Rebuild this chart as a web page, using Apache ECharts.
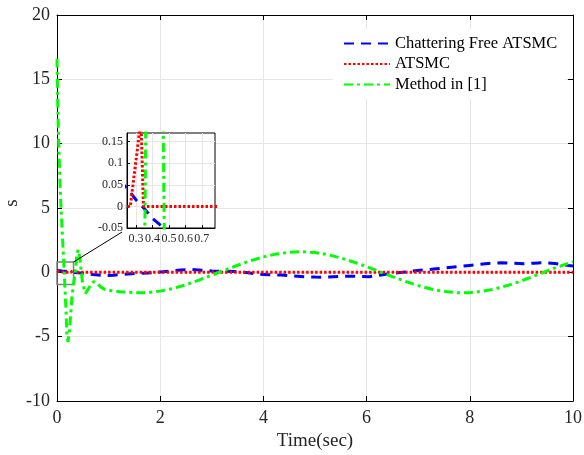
<!DOCTYPE html>
<html>
<head>
<meta charset="utf-8">
<script src="https://cdn.jsdelivr.net/npm/echarts@6/dist/echarts.min.js"></script>
<style>
  html, body { margin: 0; padding: 0; background: #fff; }
  #chart { width: 584px; height: 455px; }
</style>
</head>
<body>
<div id="chart"></div>
<script>
// Sliding variable s(t) for the three controllers
const blueName = 'Chattering Free ATSMC';
const redName = 'ATSMC';
const greenName = 'Method in [1]';

const blueT = [0, 0.1, 0.25, 0.3, 0.35, 0.4, 0.47, 0.55, 0.7, 0.9, 1.1, 1.3, 1.5, 1.75, 2.0, 2.2, 2.4, 2.6, 2.8, 3.0, 3.25, 3.5, 3.7, 3.9, 4.1, 4.35, 4.6, 4.8, 5.0, 5.2, 5.45, 5.65, 5.85, 6.05, 6.25, 6.5, 6.7, 6.9, 7.1, 7.3, 7.55, 7.75, 8.0, 8.2, 8.4, 8.6, 8.85, 9.05, 9.25, 9.45, 9.65, 9.85, 10];
const blueS = [0.15, 0.10, 0.04, 0.015, -0.005, -0.028, -0.05, -0.10, -0.17, -0.25, -0.22, -0.15, -0.10, -0.05, 0.03, 0.10, 0.18, 0.22, 0.17, 0.10, 0.08, 0.06, -0.03, -0.13, -0.18, -0.21, -0.28, -0.34, -0.37, -0.38, -0.33, -0.30, -0.32, -0.34, -0.22, -0.08, 0.0, 0.10, 0.18, 0.26, 0.36, 0.44, 0.54, 0.62, 0.70, 0.75, 0.71, 0.67, 0.71, 0.75, 0.68, 0.56, 0.50];

const redT = [0, 0.1, 0.2, 0.265, 0.33, 0.345, 1, 2, 4, 6, 8, 10];
const redS = [0.1, 0.03, 0, 0, 0.2, 0, 0, 0, 0, 0, 0, 0];

const greenT = [0, 0.015, 0.033, 0.055, 0.078, 0.11, 0.141, 0.17, 0.194, 0.213, 0.24, 0.27, 0.29, 0.32, 0.355, 0.38, 0.407, 0.44, 0.47, 0.5, 0.55, 0.6, 0.67, 0.71, 0.78, 0.85, 0.92, 1.0, 1.25, 1.5, 1.75, 2.0, 2.25, 2.5, 2.75, 3.0, 3.25, 3.5, 3.75, 4.0, 4.25, 4.5, 4.75, 5.0, 5.25, 5.5, 5.75, 6.0, 6.25, 6.5, 6.75, 7.0, 7.25, 7.5, 7.75, 8.0, 8.25, 8.5, 8.75, 9.0, 9.25, 9.5, 9.75, 10];
const greenS = [16.6, 13.0, 10.0, 7.3, 5.0, 2.4, 0, -2.6, -5.0, -5.4, -4.6, -3.0, -1.9, -0.9, 0, 1.2, 1.75, 1.2, 0, -0.9, -1.63, -1.35, -0.85, -0.73, -0.85, -1.15, -1.32, -1.40, -1.52, -1.58, -1.58, -1.46, -1.25, -0.97, -0.60, -0.22, 0.17, 0.55, 0.90, 1.20, 1.42, 1.56, 1.60, 1.54, 1.37, 1.12, 0.80, 0.44, 0.05, -0.33, -0.70, -1.03, -1.30, -1.48, -1.58, -1.58, -1.47, -1.28, -1.00, -0.66, -0.28, 0.12, 0.48, 0.82];

// Main axis ticks and zoomed-in window
const xTicks = { min: 0, max: 10, step: 2 };
const yTicks = { min: -10, max: 20, step: 5 };
const zoomX = [0.245, 0.78];
const zoomY = [-0.05, 0.17];
const zoomXLabels = [0.3, 0.4, 0.5, 0.6, 0.7];
const zoomYLabels = [-0.05, 0, 0.05, 0.1, 0.15];
const zoomBox = [[0, 0.8], [0.32, -0.95]];
const arrowPts = [[0.32, 0.8], [1.26, 3.13]];

const pairs = (t, s) => t.map((v, i) => [v, s[i]]);

const FONT = 'Liberation Serif, Times New Roman, serif';
const TXT = '#262626';
const GRIDC = '#e6e6e6';

const styles = {
  [blueName]: { color: '#0000ff', width: 3, type: [10, 7] },
  [redName]: { color: '#ff0000', width: 3, type: [2.5, 2] },
  [greenName]: { color: '#00ff00', width: 3, type: [9, 4, 3, 4] }
};

function mkSeries(name, t, s, gridIdx, extra) {
  const st = styles[name];
  return Object.assign({
    name: name,
    type: 'line',
    xAxisIndex: gridIdx === 0 ? 0 : 2,
    yAxisIndex: gridIdx === 0 ? 0 : 2,
    data: pairs(t, s),
    showSymbol: false,
    symbol: 'none',
    clip: true,
    animation: false,
    z: gridIdx === 0 ? 2 : 6,
    color: st.color,
    lineStyle: { color: st.color, width: st.width, type: st.type, cap: 'butt' }
  }, extra || {});
}

const series = [
  mkSeries(blueName, blueT, blueS, 0),
  mkSeries(redName, redT, redS, 0),
  mkSeries(greenName, greenT, greenS, 0, {
    markArea: {
      silent: true,
      itemStyle: { color: 'rgba(0,0,0,0)', borderColor: '#808080', borderWidth: 1.5 },
      data: [[{ coord: zoomBox[0] }, { coord: zoomBox[1] }]]
    },
    markLine: {
      silent: true,
      symbol: ['none', 'arrow'],
      symbolSize: [0, 11],
      label: { show: false },
      lineStyle: { color: '#000', width: 1, type: 'solid' },
      data: [[{ coord: arrowPts[0] }, { coord: arrowPts[1] }]]
    }
  }),
  mkSeries(blueName, blueT, blueS, 1),
  mkSeries(redName, redT, redS, 1),
  mkSeries(greenName, greenT, greenS, 1)
];

const mainLine = { show: true, onZero: false, lineStyle: { color: '#000', width: 1 } };
const mainTick = { show: true, inside: true, length: 5, lineStyle: { color: '#000' } };

const option = {
  backgroundColor: '#fff',
  animation: false,
  // y-axis title, rotated like a vertical axis label
  graphic: [{
    type: 'text', x: 12, y: 203, rotation: Math.PI / 2, silent: true,
    style: { text: 's', fontFamily: FONT, fontSize: 19, fill: TXT, align: 'center', verticalAlign: 'middle' }
  }],
  legend: {
    data: [blueName, redName, greenName],
    orient: 'vertical',
    left: 333,
    top: 29,
    padding: [6, 8, 6, 10],
    itemWidth: 46,
    itemHeight: 14,
    itemGap: 3.5,
    backgroundColor: '#fff',
    z: 10,
    itemStyle: { opacity: 0 },
    textStyle: { fontFamily: FONT, fontSize: 16.5, color: '#000' }
  },
  grid: [
    { left: 57, right: 11, top: 15, bottom: 54, containLabel: false, outerBoundsMode: 'none' },
    { left: 127, top: 133, width: 88, height: 95, show: true, backgroundColor: '#fff',
      borderColor: '#000', borderWidth: 1, z: 3, containLabel: false, outerBoundsMode: 'none' }
  ],
  xAxis: [
    { type: 'value', gridIndex: 0, min: xTicks.min, max: xTicks.max, interval: xTicks.step,
      name: 'Time(sec)', nameLocation: 'middle', nameGap: 29,
      nameTextStyle: { fontFamily: FONT, fontSize: 19, color: TXT },
      axisLine: mainLine, axisTick: mainTick,
      axisLabel: { fontFamily: FONT, fontSize: 18, color: TXT, margin: 8 },
      splitLine: { show: true, lineStyle: { color: GRIDC, width: 1 } } },
    { type: 'value', gridIndex: 0, position: 'top', min: xTicks.min, max: xTicks.max, interval: xTicks.step,
      axisLine: mainLine, axisTick: mainTick, axisLabel: { show: false }, splitLine: { show: false } },
    { type: 'value', gridIndex: 1, min: zoomX[0], max: zoomX[1], z: 4,
      axisLine: { show: true, onZero: false, lineStyle: { color: '#000', width: 1 } },
      axisTick: { show: true, inside: true, length: 3, customValues: zoomXLabels, lineStyle: { color: '#000' } },
      axisLabel: { fontFamily: FONT, fontSize: 12, color: TXT, margin: 5, customValues: zoomXLabels },
      splitLine: { show: true, lineStyle: { color: GRIDC, width: 1 } } }
  ],
  yAxis: [
    { type: 'value', gridIndex: 0, min: yTicks.min, max: yTicks.max, interval: yTicks.step,
      axisLine: mainLine, axisTick: mainTick,
      axisLabel: { fontFamily: FONT, fontSize: 18, color: TXT, margin: 7 },
      splitLine: { show: true, lineStyle: { color: GRIDC, width: 1 } } },
    { type: 'value', gridIndex: 0, position: 'right', min: yTicks.min, max: yTicks.max, interval: yTicks.step,
      axisLine: mainLine, axisTick: mainTick, axisLabel: { show: false }, splitLine: { show: false } },
    { type: 'value', gridIndex: 1, min: zoomY[0], max: zoomY[1], z: 4,
      axisLine: { show: true, onZero: false, lineStyle: { color: '#000', width: 1 } },
      axisTick: { show: true, inside: true, length: 3, customValues: zoomYLabels, lineStyle: { color: '#000' } },
      axisLabel: { fontFamily: FONT, fontSize: 12, color: TXT, margin: 4, customValues: zoomYLabels },
      splitLine: { show: true, lineStyle: { color: GRIDC, width: 1 } } }
  ],
  series: series
};

const chart = echarts.init(document.getElementById('chart'), null, { renderer: 'canvas' });
chart.setOption(option);
</script>
</body>
</html>
